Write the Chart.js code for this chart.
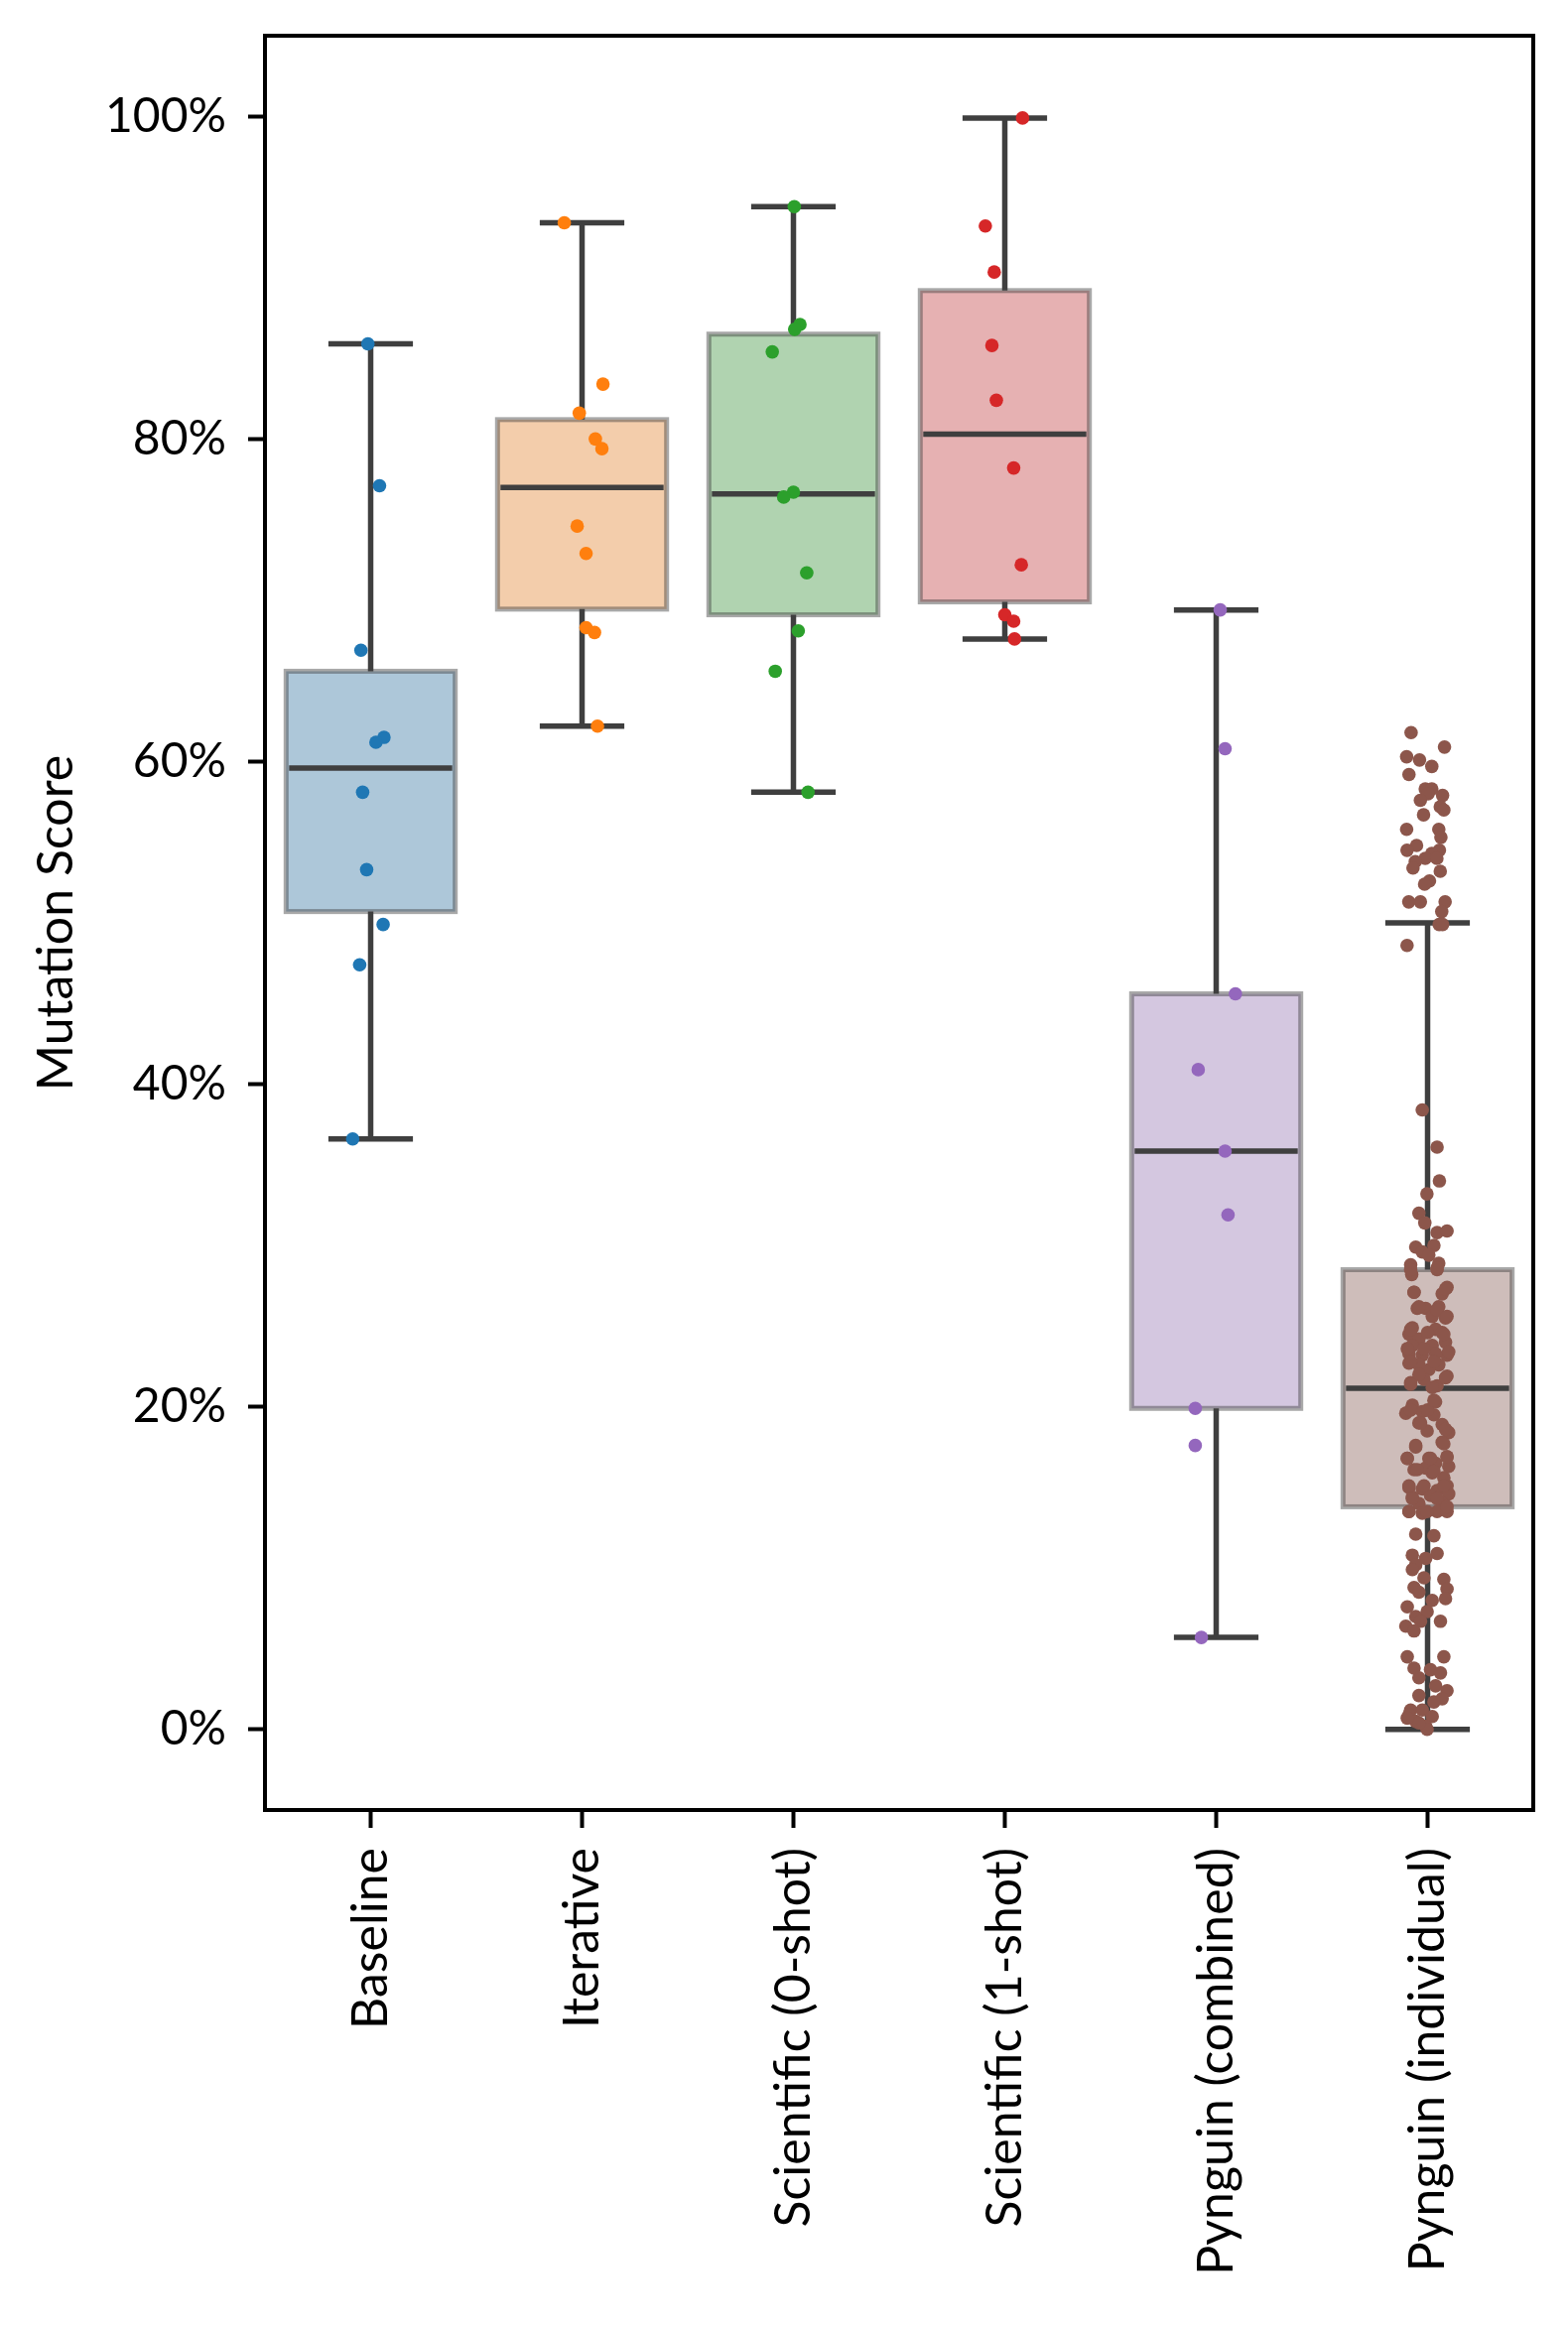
<!DOCTYPE html>
<html>
<head>
<meta charset="utf-8">
<script src="https://cdn.jsdelivr.net/npm/chart.js@4.4.0/dist/chart.umd.min.js"></script>
<style>
  html, body { margin: 0; padding: 0; background: #fff; }
  #wrap { width: 1580px; height: 2347px; }
</style>
</head>
<body>
<div id="wrap"><canvas id="chart"></canvas></div>
<script>
// categories and box stats (mutation score, %)
const categories = ['Baseline', 'Iterative', 'Scientific (0-shot)', 'Scientific (1-shot)', 'Pynguin (combined)', 'Pynguin (individual)'];
const whiskerLow  = [36.6, 62.2, 58.1, 67.6, 5.7, 0.0];
const quartile1   = [50.7, 69.45, 69.1, 69.9, 19.9, 13.8];
const medians     = [59.6, 77.0, 76.6, 80.3, 35.85, 21.15];
const quartile3   = [65.6, 81.2, 86.5, 89.2, 45.6, 28.5];
const whiskerHigh = [85.9, 93.4, 94.4, 99.9, 69.4, 50.0];
const yTicks = [0, 20, 40, 60, 80, 100];

// individual scores and their strip jitter (in category units)
const baselineScores = [85.9, 77.1, 66.9, 61.5, 61.2, 58.1, 53.3, 49.9, 47.4, 36.6];
const baselineJitter = [-0.013, 0.042, -0.046, 0.063, 0.025, -0.038, -0.019, 0.059, -0.052, -0.085];
const iterativeScores = [93.4, 83.4, 81.6, 80.0, 79.4, 74.6, 72.9, 68.3, 68.0, 62.2];
const iterativeJitter = [-0.084, 0.099, -0.013, 0.063, 0.094, -0.023, 0.019, 0.019, 0.059, 0.073];
const sci0Scores = [94.4, 87.1, 86.8, 85.4, 76.7, 76.4, 71.7, 68.1, 65.6, 58.1];
const sci0Jitter = [0.004, 0.031, 0.006, -0.1, 0, -0.046, 0.063, 0.023, -0.086, 0.069];
const sci1Scores = [99.9, 93.2, 90.35, 85.8, 82.4, 78.2, 72.2, 69.1, 68.7, 67.6];
const sci1Jitter = [0.084, -0.092, -0.05, -0.061, -0.04, 0.042, 0.078, 0, 0.042, 0.046];
const pynCombScores = [69.4, 60.8, 45.6, 40.9, 35.85, 31.9, 19.9, 17.6, 5.7];
const pynCombJitter = [0.019, 0.042, 0.091, -0.085, 0.042, 0.056, -0.099, -0.099, -0.07];
const pynIndScores = [
  61.8, 60.9, 60.3, 60.1, 59.7, 59.2, 58.3, 58.3, 58.0, 57.9, 57.6, 57.2, 57.0, 56.7, 55.8, 55.8, 55.3, 54.8, 54.5, 54.5,
  54.3, 54.0, 54.0, 53.8, 53.4, 53.2, 52.6, 52.4, 51.3, 51.3, 51.3, 50.7, 49.9, 49.9, 48.6, 38.4, 36.1, 34.0, 33.2,
  32.0, 31.4, 30.8, 30.9, 29.9, 29.6, 30.0, 29.4, 28.9, 28.5, 28.8, 28.2, 27.4, 27.0, 27.1, 26.1, 26.1, 26.2, 25.5, 25.6,
  24.9, 24.5, 24.8, 24.6, 24.2, 24.0, 23.8, 23.8, 23.3, 23.2, 23.2, 23.3, 22.7, 22.6, 22.6, 22.3,
  28.5, 28.6, 27.1, 27.3, 26.2, 26.0, 25.6, 24.8, 24.6, 24.5, 23.6, 23.6, 23.4, 22.8, 22.8, 21.9, 21.5, 21.7, 21.3,
  22.0, 21.8, 21.4, 21.2, 20.3, 20.1, 19.6, 19.7, 19.5, 19.0, 18.9, 18.4, 18.5, 17.8, 17.6, 16.8, 16.8, 16.9, 16.5, 16.1,
  16.2, 16.3, 15.9, 15.6, 15.0, 14.9, 15.1, 14.8, 14.4, 14.5, 14.6, 14.0, 14.0, 13.5, 13.4, 13.5, 13.5, 12.1, 12.0, 10.8,
  10.9, 10.6, 10.2,
  19.8, 19.8, 20.4, 19.0, 18.6, 17.5, 17.7, 16.8, 16.8, 16.9, 16.1, 16.0, 15.1, 15.1, 15.1, 14.3, 14.3, 13.8, 13.5, 13.5,
  9.9, 9.4, 9.3, 8.8, 8.5, 8.7, 8.0, 8.1, 7.6, 7.3, 7.0, 6.7, 6.7, 6.4, 6.1, 4.5, 4.5, 3.8, 3.7, 3.5, 3.2, 2.7, 2.4, 2.1,
  1.9, 1.7, 1.2, 0.9, 1.2, 0.8, 0.5, 0.2, 0.0, 0.4, 0.7
];
const pynIndJitter = [
  -0.078, 0.080, -0.099, -0.038, 0.020, -0.088, -0.011, 0.020, 0.002, 0.071, -0.034, 0.060, 0.077, -0.019, -0.099, 0.053, 0.063, -0.052, -0.097, 0.056,
  0.020, -0.011, 0.044, -0.058, -0.069, 0.060, 0.009, -0.014, -0.089, -0.034, 0.083, 0.067, 0.055, 0.071, -0.097, -0.025, 0.045, 0.056, -0.003,
  -0.041, -0.013, 0.045, 0.092, -0.056, -0.025, 0.030, 0.006, 0.053, 0.045, -0.080, -0.075, 0.092, 0.069, -0.064, -0.049, -0.009, 0.053, 0.085, 0.022,
  -0.072, -0.088, 0.038, 0.069, -0.041, 0.085, -0.072, 0.022, -0.088, -0.025, 0.092, 0.038, -0.088, -0.041, 0.053, 0.006,
  -0.080, 0.045, -0.064, 0.085, -0.041, 0.045, 0.092, -0.080, 0.000, 0.077, -0.096, -0.017, 0.100, -0.080, 0.030, 0.092, -0.080, -0.017, 0.045,
  -0.041, 0.085, -0.080, 0.022, 0.038, -0.072, -0.103, -0.025, 0.030, -0.041, 0.069, 0.100, -0.002, 0.069, -0.056, -0.096, 0.006, 0.092, 0.038, -0.064,
  -0.009, 0.100, 0.022, 0.077, -0.088, -0.025, 0.092, 0.045, -0.072, 0.014, 0.100, -0.041, 0.069, -0.088, -0.025, 0.045, 0.092, -0.056, 0.030, -0.072,
  0.045, -0.009, -0.056,
  -0.080, 0.000, 0.030, -0.033, 0.085, -0.056, 0.077, -0.096, 0.014, 0.092, -0.049, 0.030, -0.088, -0.017, 0.077, -0.072, 0.045, 0.092, -0.088, -0.002,
  -0.072, -0.017, 0.077, -0.064, -0.041, 0.092, 0.022, 0.085, -0.096, -0.002, -0.056, -0.033, 0.061, -0.103, -0.064, -0.096, 0.077, -0.064, 0.014, 0.061, -0.041, 0.038, 0.092, -0.041,
  0.069, 0.030, -0.080, -0.088, -0.025, 0.022, -0.056, -0.009, -0.002, -0.041, -0.096
];

const groups = [
  [baselineScores, baselineJitter],
  [iterativeScores, iterativeJitter],
  [sci0Scores, sci0Jitter],
  [sci1Scores, sci1Jitter],
  [pynCombScores, pynCombJitter],
  [pynIndScores, pynIndJitter],
];

const pointColors = ['#1f77b4', '#ff7f0e', '#2ca02c', '#d62728', '#9467bd', '#8c564b'];
const boxFills = ['rgba(50,116,161,0.4)', 'rgba(225,129,44,0.4)', 'rgba(58,146,58,0.4)',
                  'rgba(192,61,62,0.4)', 'rgba(147,114,178,0.4)', 'rgba(132,91,83,0.4)'];

const boxPlugin = {
  id: 'boxes',
  beforeDatasetsDraw(chart) {
    const { ctx, scales: { x, y } } = chart;
    const line = '#3f3f3f';
    ctx.save();
    categories.forEach((c, i) => {
      const l = x.getPixelForValue(i - 0.4), r = x.getPixelForValue(i + 0.4);
      const cl = x.getPixelForValue(i - 0.2), cr = x.getPixelForValue(i + 0.2);
      const cx = x.getPixelForValue(i);
      const top = y.getPixelForValue(quartile3[i]), bot = y.getPixelForValue(quartile1[i]);
      const hi = y.getPixelForValue(whiskerHigh[i]), lo = y.getPixelForValue(whiskerLow[i]);
      const med = y.getPixelForValue(medians[i]);

      ctx.fillStyle = boxFills[i];
      ctx.fillRect(l, top, r - l, bot - top);
      ctx.strokeStyle = 'rgba(63,63,63,0.45)';
      ctx.lineWidth = 5;
      ctx.strokeRect(l, top, r - l, bot - top);

      ctx.strokeStyle = line;
      ctx.lineWidth = 5.5;
      ctx.beginPath();
      ctx.moveTo(cx, top); ctx.lineTo(cx, hi);
      ctx.moveTo(cx, bot); ctx.lineTo(cx, lo);
      ctx.moveTo(cl, hi); ctx.lineTo(cr, hi);
      ctx.moveTo(cl, lo); ctx.lineTo(cr, lo);
      ctx.moveTo(l + 3, med); ctx.lineTo(r - 3, med);
      ctx.stroke();
    });
    ctx.restore();
  },
  afterDraw(chart) {
    const { ctx, chartArea: a } = chart;
    ctx.save();
    ctx.strokeStyle = '#000';
    ctx.lineWidth = 4;
    ctx.strokeRect(a.left, a.top, a.right - a.left, a.bottom - a.top);
    ctx.restore();
  }
};

Chart.defaults.font.family = 'Lato, "DejaVu Sans", sans-serif';
Chart.defaults.font.size = 48;
Chart.defaults.color = '#000';

new Chart(document.getElementById('chart'), {
  type: 'scatter',
  data: {
    datasets: groups.map(([scores, jitter], i) => ({
      label: categories[i],
      data: scores.map((s, k) => ({ x: i + jitter[k], y: s })),
      backgroundColor: pointColors[i],
      borderWidth: 0,
      pointRadius: 6.8,
      pointHoverRadius: 6.8,
    }))
  },
  plugins: [boxPlugin],
  options: {
    responsive: true,
    maintainAspectRatio: false,
    animation: false,
    events: [],
    layout: { padding: { left: 0, top: 36, right: 35, bottom: 0 } },
    plugins: {
      legend: { display: false },
      tooltip: { enabled: false }
    },
    scales: {
      x: {
        type: 'linear',
        min: -0.5,
        max: 5.5,
        afterBuildTicks: scale => { scale.ticks = categories.map((c, i) => ({ value: i })); },
        afterFit: scale => { scale.height = 523; scale.paddingLeft = 0; scale.paddingRight = 0; },
        border: { display: false },
        grid: { drawOnChartArea: false, drawTicks: true, tickLength: 18, tickWidth: 4, tickColor: '#000' },
        ticks: {
          autoSkip: false,
          minRotation: 90,
          maxRotation: 90,
          padding: 20,
          font: { size: 50 },
          callback: v => categories[Math.round(v)]
        }
      },
      y: {
        min: -5,
        max: 105,
        afterBuildTicks: scale => { scale.ticks = yTicks.map(v => ({ value: v })); },
        afterFit: scale => { scale.width = 267; scale.paddingTop = 0; scale.paddingBottom = 0; },
        border: { display: false },
        grid: { drawOnChartArea: false, drawTicks: true, tickLength: 17, tickWidth: 4, tickColor: '#000' },
        ticks: {
          padding: 22,
          callback: v => v + '%'
        },
        title: {
          display: true,
          text: 'Mutation Score',
          font: { size: 50 },
          padding: { top: 27, bottom: 0 }
        }
      }
    }
  }
});
</script>
</body>
</html>
